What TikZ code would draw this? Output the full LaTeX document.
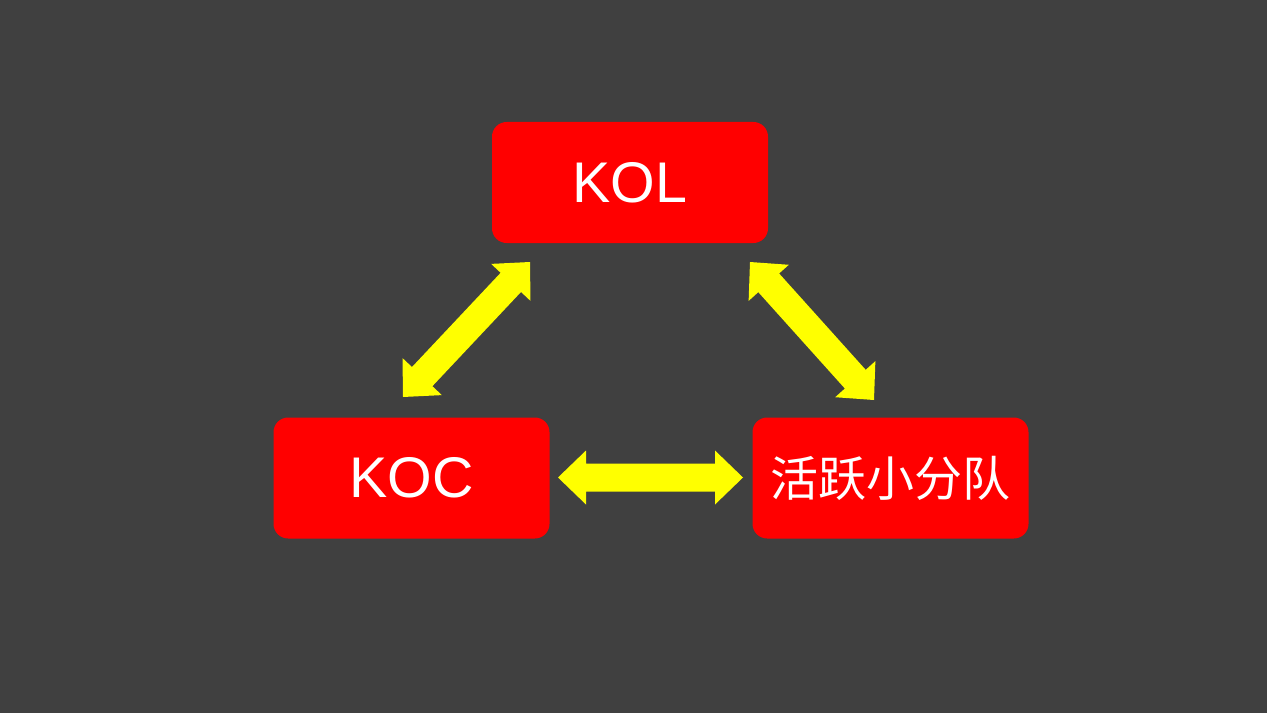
\documentclass[tikz,border=0pt]{standalone}
\usepackage{fontspec}
\setmainfont{Liberation Sans}
\newfontfamily\cjk{Noto Sans CJK SC}
\usetikzlibrary{calc}
\definecolor{bg}{HTML}{404040}
\definecolor{boxred}{HTML}{FF0000}
\definecolor{arrowyel}{HTML}{FFFF00}
\tikzset{
  box/.style={fill=boxred, draw=none, rounded corners=11pt, minimum width=207pt, minimum height=90.75pt, inner sep=0pt, text=white, font=\fontsize{43}{48}\selectfont},
  arrowfill/.style={fill=arrowyel, draw=none}
}
\newcommand\dblarr[2]{%
  \coordinate (#1h) at ($(#1)!21pt!(#2)$);
  \coordinate (#2h) at ($(#2)!21pt!(#1)$);
  \fill[arrowfill] (#1) -- ($(#1h)!20.25pt!90:(#2)$) -- ($(#1h)!10.5pt!90:(#2)$)
    -- ($(#2h)!10.5pt!-90:(#1)$) -- ($(#2h)!20.25pt!-90:(#1)$) -- (#2)
    -- ($(#2h)!20.25pt!90:(#1)$) -- ($(#2h)!10.5pt!90:(#1)$)
    -- ($(#1h)!10.5pt!-90:(#2)$) -- ($(#1h)!20.25pt!-90:(#2)$) -- cycle;
}
\begin{document}
\begin{tikzpicture}[x=0.75pt,y=-0.75pt]
\fill[bg] (0,0) rectangle (1267,713);
\useasboundingbox (0,0) rectangle (1267,713);
\node[box] (kol) at (630,182.5) {KOL};
\node[box] (koc) at (411.5,478) {KOC};
\node[box, font=\cjk\fontsize{36}{40}\selectfont] (hy) at (890.5,478) {活跃小分队};
\coordinate (a1) at (530,262);
\coordinate (a2) at (403,397);
\coordinate (b1) at (750,262);
\coordinate (b2) at (874,400);
\coordinate (c1) at (558,477.5);
\coordinate (c2) at (743,477.5);
\dblarr{a1}{a2}
\dblarr{b1}{b2}
\dblarr{c1}{c2}
\end{tikzpicture}
\end{document}
